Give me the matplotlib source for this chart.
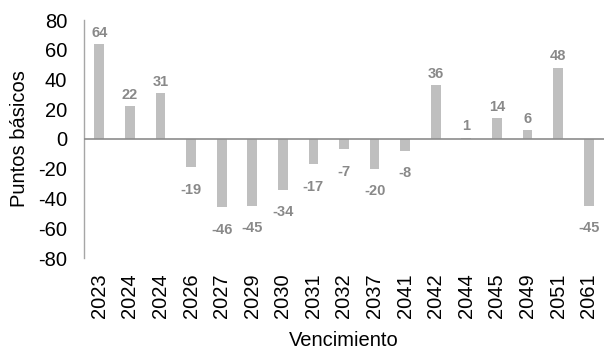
import matplotlib.pyplot as plt
import numpy as np

plt.rcParams['font.family'] = ['Liberation Sans', 'DejaVu Sans']
plt.rcParams['axes.unicode_minus'] = False

# vencimientos y diferencial en puntos basicos
vencimientos = ["2023", "2024", "2024", "2026", "2027", "2029", "2030", "2031", "2032",
                "2037", "2041", "2042", "2044", "2045", "2049", "2051", "2061"]
puntos = [64, 22, 31, -19, -46, -45, -34, -17, -7, -20, -8, 36, 1, 14, 6, 48, -45]

bar_color = "#BFBFBF"
label_color = "#898989"

fig = plt.figure(figsize=(6.04, 3.56), dpi=100)
ax = fig.add_axes([84 / 604, 1 - 258 / 356, 520 / 604, 238 / 356])

x = np.arange(len(puntos))
ax.bar(x, puntos, width=0.32, color=bar_color, zorder=2)

for xi, v in zip(x, puntos):
    if v >= 0:
        ax.annotate(str(v), (xi, v), xytext=(0, 3.0), textcoords="offset points",
                    ha="center", va="bottom", fontsize=10.5, fontweight="bold",
                    color=label_color)
    else:
        ax.annotate(str(v), (xi, v), xytext=(0, -11.0), textcoords="offset points",
                    ha="center", va="top", fontsize=10.5, fontweight="bold",
                    color=label_color)

ax.axhline(0, color="#8C8C8C", linewidth=1.2, zorder=3)

ax.set_xlim(-0.5, len(puntos) - 0.5)
ax.set_ylim(-80, 80)
ax.set_yticks(np.arange(-80, 81, 20))
ax.set_xticks(x)
ax.set_xticklabels(vencimientos, rotation=90, fontsize=14.5)
ax.tick_params(axis="y", labelsize=14.5, length=0, pad=12)
ax.tick_params(axis="x", length=0, pad=11)

for side in ["top", "right", "bottom"]:
    ax.spines[side].set_visible(False)
ax.spines["left"].set_color("#A6A6A6")
ax.spines["left"].set_linewidth(1.0)

ax.set_ylabel("Puntos básicos", fontsize=14.5, labelpad=7)
ax.set_xlabel("Vencimiento", fontsize=14.5, labelpad=9)

fig.savefig("out.png", dpi=100)
